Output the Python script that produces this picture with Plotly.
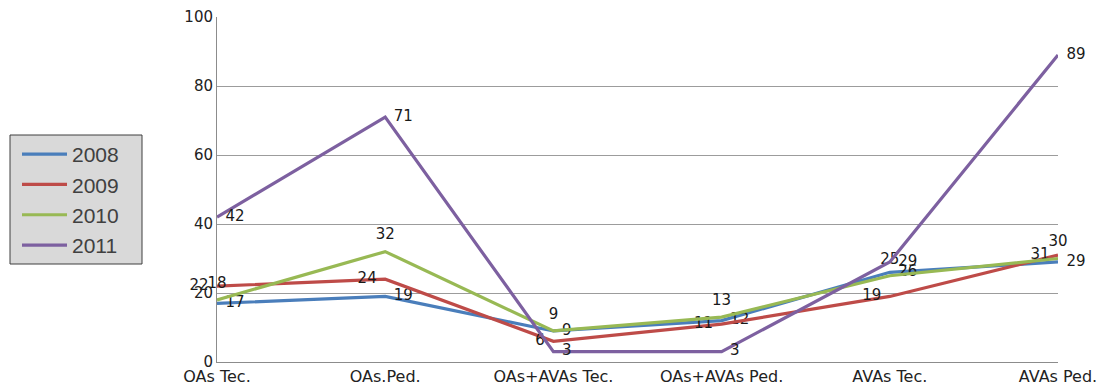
import plotly.graph_objects as go

categories = ["OAs Tec.", "OAs.Ped.", "OAs+AVAs Tec.", "OAs+AVAs Ped.", "AVAs Tec.", "AVAs Ped."]
years = ["2008", "2009", "2010", "2011"]
v2008 = [17, 19, 9, 12, 26, 29]
v2009 = [22, 24, 6, 11, 19, 31]
v2010 = [18, 32, 9, 13, 25, 30]
v2011 = [42, 71, 3, 3, 29, 89]
y_ticks = [0, 20, 40, 60, 80, 100]

series = [v2008, v2009, v2010, v2011]
colors = ["#4a7ebb", "#be4b48", "#98b954", "#7d60a0"]
text_pos = ["middle right", "middle left", "top center", "middle right"]

W, H = 1098, 388
ML, MR, MT, MB = 217, 40, 17, 26
PW, PH = W - ML - MR, H - MT - MB


def px_x(p):
    return (p - ML) / PW


def px_y(p):
    return (H - MB - p) / PH


fig = go.Figure()
for i, (name, vals) in enumerate(zip(years, series)):
    fig.add_trace(go.Scatter(
        x=list(range(len(categories))), y=vals, name=name,
        mode="lines+markers+text", text=[str(v) for v in vals],
        textposition=text_pos[i],
        textfont=dict(family="DejaVu Sans", size=15, color="#1a1a1a"),
        line=dict(color=colors[i], width=3.2),
        marker=dict(size=12, color="rgba(0,0,0,0)"),
        cliponaxis=False, legendgroup=name,
    ))

fig.update_layout(
    width=W, height=H,
    margin=dict(l=ML, r=MR, t=MT, b=MB, autoexpand=False),
    plot_bgcolor="white", paper_bgcolor="white",
    showlegend=True,
    shapes=[dict(type="rect", xref="paper", yref="paper",
                 x0=px_x(10), x1=px_x(142), y0=px_y(264), y1=px_y(135),
                 fillcolor="#d9d9d9", line=dict(color="#3f3f3f", width=1),
                 layer="above")],
    legend=dict(
        x=px_x(17), y=px_y(134), xanchor="left", yanchor="top",
        bgcolor="rgba(0,0,0,0)", borderwidth=0,
        font=dict(family="Liberation Sans", size=21, color="#404040"),
        itemwidth=45, tracegroupgap=0,
    ),
    xaxis=dict(
        range=[0, 5], tickmode="array", tickvals=list(range(len(categories))),
        ticktext=categories, showgrid=False, showline=True, linecolor="#8c8c8c",
        linewidth=1, zeroline=False, ticks="", automargin=False,
        tickfont=dict(family="DejaVu Sans", size=16, color="#222222"),
    ),
    yaxis=dict(
        range=[0, 100], tickmode="array", tickvals=y_ticks,
        showgrid=True, gridcolor="#9c9c9c", gridwidth=1,
        showline=True, linecolor="#8c8c8c", linewidth=1, zeroline=False, ticks="",
        automargin=False,
        tickfont=dict(family="DejaVu Sans", size=15, color="#222222"),
    ),
)

fig.write_html("out.html")
